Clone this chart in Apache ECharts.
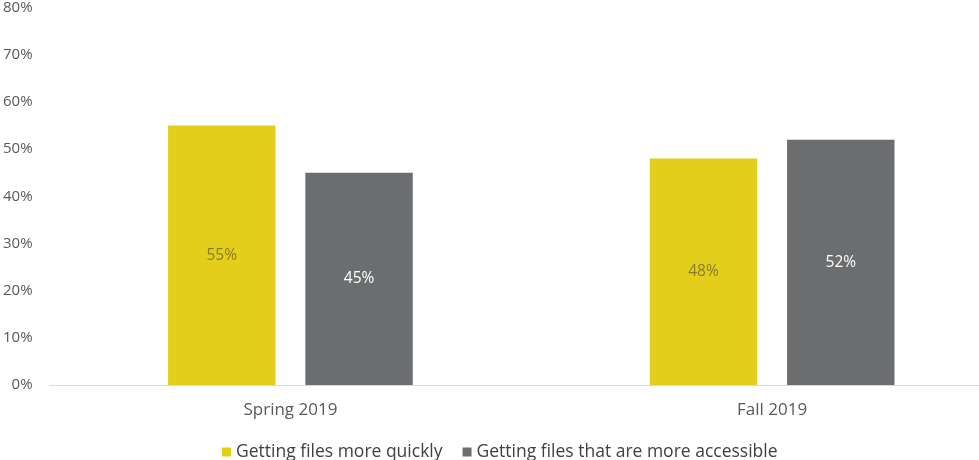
<!DOCTYPE html>
<html>
<head>
<meta charset="utf-8">
<script src="https://cdn.jsdelivr.net/npm/echarts@6/dist/echarts.min.js"></script>
<style>html,body{margin:0;padding:0;background:#fff;overflow:hidden;width:979px;height:460px;}#c{width:1013px;height:460px;}</style>
</head>
<body>
<div id="c"></div>
<script>
const categories = ['Spring 2019', 'Fall 2019'];
const seriesNames = ['Getting files more quickly', 'Getting files that are more accessible'];
const quicklyValues = [55, 48];
const accessibleValues = [45, 52];
const yTicks = [0, 10, 20, 30, 40, 50, 60, 70, 80];

const chart = echarts.init(document.getElementById('c'), null, {renderer: 'canvas'});
const font = '"Open Sans", sans-serif';
chart.setOption({
  animation: false,
  backgroundColor: '#ffffff',
  grid: {left: 46, top: 7.5, right: 0, bottom: 75, containLabel: false},
  legend: {
    top: 438,
    left: 217,
    itemWidth: 9,
    itemHeight: 9,
    itemGap: 20,
    icon: 'rect',
    textStyle: {fontFamily: font, fontSize: 17.5, color: '#404040'},
    data: seriesNames
  },
  xAxis: {
    type: 'category',
    data: categories,
    axisLine: {lineStyle: {color: '#d9d9d9', width: 1}},
    axisTick: {show: false},
    axisLabel: {fontFamily: font, fontSize: 17, color: '#595959', margin: 17}
  },
  yAxis: {
    type: 'value',
    min: yTicks[0],
    max: yTicks[yTicks.length - 1],
    interval: 10,
    splitLine: {show: false},
    axisLine: {show: false},
    axisTick: {show: false},
    axisLabel: {fontFamily: font, fontSize: 15, color: '#595959', margin: 17, formatter: '{value}%'}
  },
  series: [
    {
      name: seriesNames[0],
      type: 'bar',
      data: quicklyValues,
      barWidth: '22.3%',
      barGap: '27.8%',
      itemStyle: {color: '#E3CE1B'},
      label: {show: true, position: 'inside', formatter: '{c}%', fontFamily: font, fontSize: 15.5, color: '#8a7b2a'}
    },
    {
      name: seriesNames[1],
      type: 'bar',
      data: accessibleValues,
      barWidth: '22.3%',
      itemStyle: {color: '#6B6D6F'},
      label: {show: true, position: 'inside', formatter: '{c}%', fontFamily: font, fontSize: 15.5, color: '#ffffff'}
    }
  ]
});
</script>
</body>
</html>
